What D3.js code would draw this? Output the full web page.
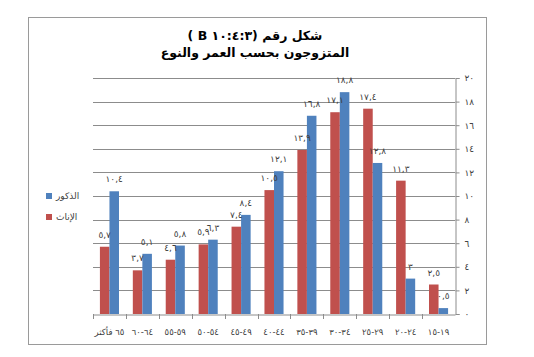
<!DOCTYPE html>
<html><head><meta charset="utf-8">
<script src="https://cdn.jsdelivr.net/npm/d3@7"></script>
<style>
html,body{margin:0;padding:0;background:#fff;}
svg{display:block;}
.ltr{unicode-bidi:bidi-override;direction:ltr;}
</style>
</head><body>
<svg id="chart" width="534" height="357"></svg>
<script>
const categories = ["١٥-١٩","٢٠-٢٤","٢٥-٢٩","٣٠-٣٤","٣٥-٣٩","٤٠-٤٤","٤٥-٤٩","٥٠-٥٤","٥٥-٥٩","٦٠-٦٤","٦٥ فأكثر"];
const seriesNames = ["الذكور","الإناث"];
const males   = [0.5, 3, 12.8, 18.8, 16.8, 12.1, 8.4, 6.3, 5.8, 5.1, 10.4];
const females = [2.5, 11.3, 17.4, 17.1, 13.9, 10.5, 7.4, 5.9, 4.6, 3.7, 5.7];
const yTicks = [0,2,4,6,8,10,12,14,16,18,20];
const titleLines = ["شكل رقم (٣\u200F:\u200F٤\u200F:\u200F١٠ B )","المتزوجون بحسب العمر والنوع"];

const colors = {"الذكور":"#4F81BD","الإناث":"#C0504D"};
const arabic = s => String(s).replace(/[0-9]/g,d=>"٠١٢٣٤٥٦٧٨٩"[+d]).replace(/\./g,",");

const svg = d3.select("#chart");
const X0 = 93, X1 = 455, Y0 = 314, Y1 = 78;
const font = "'DejaVu Sans', Arial, sans-serif";

// frame
svg.append("rect").attr("x",28.5).attr("y",17.5).attr("width",458).attr("height",327)
  .attr("fill","none").attr("stroke","#9a9a9a").attr("stroke-width",1);

const x = d3.scaleBand().domain(categories).range([X1, X0]);
const xs = d3.scaleBand().domain(["الإناث","الذكور"]).range([x.bandwidth()*0.21, x.bandwidth()*0.79]);
const y = d3.scaleLinear().domain([0,20]).range([Y0, Y1]);

// gridlines
svg.append("g").selectAll("line").data(yTicks.filter(t=>t>0)).join("line")
  .attr("x1",X0).attr("x2",X1).attr("y1",d=>Math.round(y(d))+0.5).attr("y2",d=>Math.round(y(d))+0.5)
  .attr("stroke","#8c8c8c").attr("stroke-width",1);

// right y axis
const yAxis = d3.axisRight(y).tickValues(yTicks).tickSize(4).tickFormat(d=>arabic(d));
const gy = svg.append("g").attr("transform",`translate(${X1+0.5},0)`).call(yAxis);
gy.select(".domain").attr("stroke","#8c8c8c");
gy.selectAll(".tick line").attr("stroke","#8c8c8c");
gy.selectAll(".tick text").attr("x",9).attr("font-size",9).attr("fill","#404040").attr("font-family",font);

// x axis
const xAxis = d3.axisBottom(x).tickSize(0).tickFormat(d=>d);
const gx = svg.append("g").attr("transform",`translate(0,${Y0+0.5})`).call(xAxis);
gx.select(".domain").attr("stroke","#8c8c8c");
gx.selectAll(".tick text").attr("y",14).attr("font-size",8.5).attr("fill","#404040").attr("font-family",font)
  .attr("class",d=>/فأكثر/.test(d)?null:"ltr");
// category boundary ticks
svg.append("g").selectAll("line").data(categories).join("line")
  .attr("x1",d=>Math.round(x(d))+0.5).attr("x2",d=>Math.round(x(d))+0.5)
  .attr("y1",Y0).attr("y2",Y0+5).attr("stroke","#8c8c8c");

// bars
const rows = categories.map((c,i)=>({cat:c, vals:[{s:"الإناث",v:females[i]},{s:"الذكور",v:males[i]}]}));
const groups = svg.append("g").selectAll("g").data(rows).join("g")
  .attr("transform",d=>`translate(${x(d.cat)},0)`);
groups.selectAll("rect").data(d=>d.vals).join("rect")
  .attr("x",d=>xs(d.s)).attr("width",xs.bandwidth())
  .attr("y",d=>y(d.v)).attr("height",d=>Y0-y(d.v))
  .attr("fill",d=>colors[d.s]);
groups.selectAll("text").data(d=>d.vals).join("text")
  .attr("x",d=>xs(d.s)+xs.bandwidth()/2).attr("y",d=>y(d.v)-9)
  .attr("text-anchor","middle").attr("font-size",9).attr("fill","#404040").attr("font-family",font)
  .text(d=>arabic(d.v));

// title
svg.append("g").selectAll("text").data(titleLines).join("text")
  .attr("x",255).attr("y",(d,i)=>40+i*17).attr("text-anchor","middle")
  .attr("font-size",12.5).attr("font-weight","bold").attr("fill","#000").attr("font-family",font)
  .attr("direction","rtl")
  .text(d=>d);

// legend
const lg = svg.append("g").selectAll("g").data(seriesNames).join("g")
  .attr("transform",(d,i)=>`translate(46,${196+i*21})`);
lg.append("rect").attr("x",0).attr("y",-3).attr("width",6).attr("height",6).attr("fill",d=>colors[d]);
lg.append("text").attr("x",10).attr("y",3).attr("font-size",9).attr("fill","#404040").attr("font-family",font).text(d=>d);
</script>
</body></html>
